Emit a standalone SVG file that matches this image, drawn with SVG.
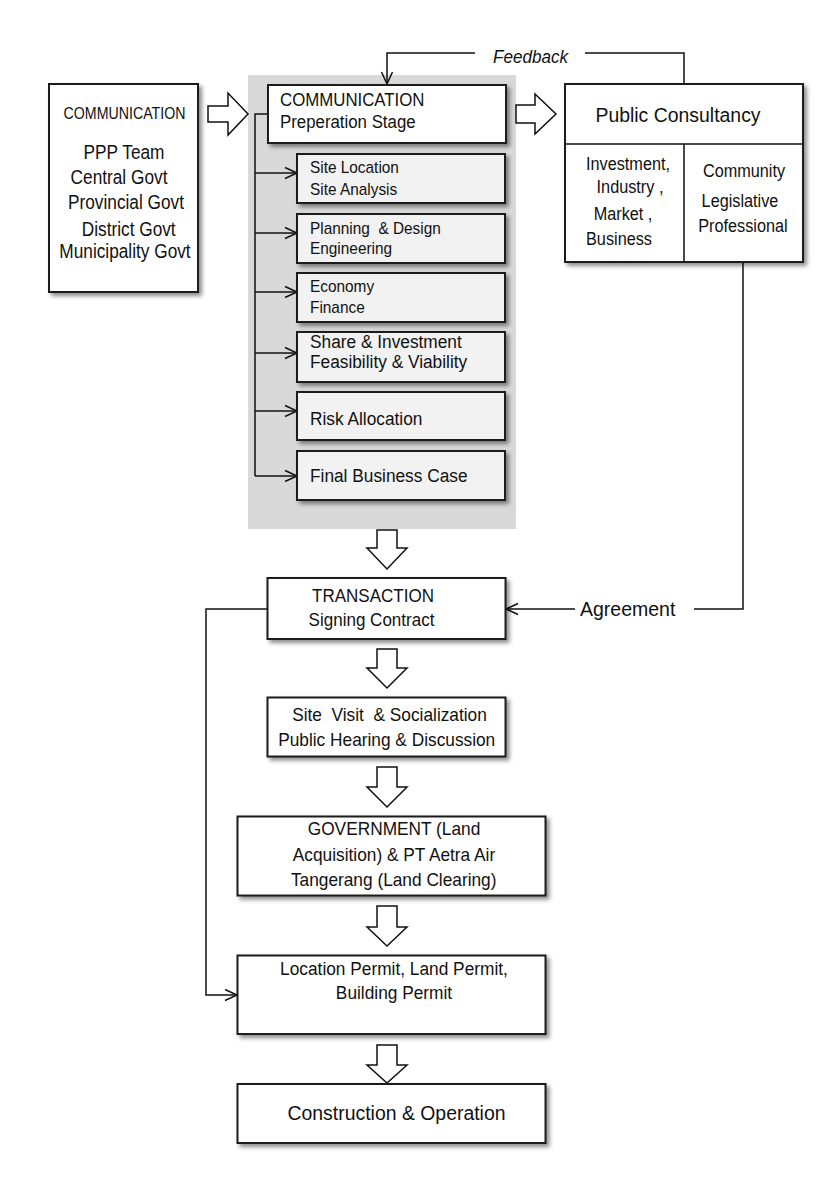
<svg xmlns="http://www.w3.org/2000/svg" width="840" height="1196" viewBox="0 0 840 1196">
<style>
text{font-family:"Liberation Sans",Arial,sans-serif;fill:#111}
.box{fill:#fff;stroke:#1a1a1a;stroke-width:2;filter:url(#sh)}
.sub{fill:#f2f2f2;stroke:#1a1a1a;stroke-width:2;filter:url(#sh)}
.blk{fill:#fff;stroke:#111;stroke-width:1.5;stroke-linejoin:miter}
.ln{fill:none;stroke:#111;stroke-width:1.5}
.arr{marker-end:url(#ah)}
.m{text-anchor:middle}
</style>
<defs>
<filter id="sh" x="-10%" y="-10%" width="125%" height="130%">
<feDropShadow dx="3" dy="3" stdDeviation="2" flood-color="#000" flood-opacity="0.45"/>
</filter>
<marker id="ah" markerUnits="userSpaceOnUse" markerWidth="16" markerHeight="16" refX="13" refY="7" orient="auto">
<path d="M1,1.5 L13,7 L1,12.5" fill="none" stroke="#111" stroke-width="1.5"/>
</marker>
</defs>
<rect width="840" height="1196" fill="#fff"/>

<rect id="prep-panel" x="248" y="75" width="268" height="454" fill="#d9d9d9"/>

<g id="connectors">
<path class="ln" d="M684,84 V53 H585"/>
<path class="ln arr" d="M475,53 H387 V84"/>
<path class="ln" d="M743,262 V609 H694"/>
<path class="ln arr" d="M575,609 H506"/>
<path class="ln" d="M268,114 H255 V476"/>
<path class="ln arr" d="M255,173 H297"/>
<path class="ln arr" d="M255,233 H297"/>
<path class="ln arr" d="M255,292 H297"/>
<path class="ln arr" d="M255,353 H297"/>
<path class="ln arr" d="M255,411 H297"/>
<path class="ln arr" d="M255,476 H297"/>
<path class="ln arr" d="M267,609 H206 V995 H237"/>
<path class="blk" d="M208,106 H228 V93 L248,114 L228,135 V122 H208 Z"/>
<path class="blk" d="M516,105 H535 V94 L556,114 L535,134 V123 H516 Z"/>
<path class="blk" d="M377,530 H397 V548 H407 L387,569 L367,548 H377 Z"/>
<path class="blk" d="M377,649 H397 V668 H407 L387,688 L367,668 H377 Z"/>
<path class="blk" d="M377,767 H397 V787 H407 L387,807 L367,787 H377 Z"/>
<path class="blk" d="M377,906 H397 V927 H407 L387,946 L367,927 H377 Z"/>
<path class="blk" d="M377,1045 H397 V1065 H407 L387,1083 L367,1065 H377 Z"/>
<text transform="translate(493,62.5) scale(0.9,1)" font-size="19" font-style="italic">Feedback</text>
<text transform="translate(580,616)" font-size="19.5">Agreement</text>
</g>

<g id="node-communication-left">
<rect class="box" x="49" y="84" width="149" height="208"/>
<text class="m" transform="translate(124.5,119) scale(0.86,1)" font-size="16.5">COMMUNICATION</text>
<text class="m" transform="translate(124,159) scale(0.885,1)" font-size="19.5">PPP Team</text>
<text class="m" transform="translate(119,184) scale(0.885,1)" font-size="19.5">Central Govt</text>
<text class="m" transform="translate(126,209) scale(0.885,1)" font-size="19.5">Provincial Govt</text>
<text class="m" transform="translate(128.7,235.7) scale(0.885,1)" font-size="19.5">District Govt</text>
<text class="m" transform="translate(125,257.5) scale(0.885,1)" font-size="19.5">Municipality Govt</text>
</g>

<g id="node-preparation">
<rect class="box" x="268" y="85" width="238" height="58"/>
<text transform="translate(280,106) scale(0.91,1)" font-size="18.5">COMMUNICATION</text>
<text transform="translate(280,128) scale(0.91,1)" font-size="18.5">Preperation Stage</text>
</g>

<g id="node-site-location">
<rect class="sub" x="297" y="154" width="208" height="49"/>
<text transform="translate(310,173) scale(0.905,1)" font-size="17">Site Location</text>
<text transform="translate(310,195) scale(0.905,1)" font-size="17">Site Analysis</text>
</g>
<g id="node-planning">
<rect class="sub" x="297" y="214" width="208" height="49"/>
<text transform="translate(310,234) scale(0.905,1)" font-size="17" xml:space="preserve">Planning  &amp; Design</text>
<text transform="translate(310,254) scale(0.905,1)" font-size="17">Engineering</text>
</g>
<g id="node-economy">
<rect class="sub" x="297" y="273" width="208" height="49"/>
<text transform="translate(310,292) scale(0.905,1)" font-size="17">Economy</text>
<text transform="translate(310,313) scale(0.905,1)" font-size="17">Finance</text>
</g>
<g id="node-share">
<rect class="sub" x="297" y="332" width="208" height="50"/>
<text transform="translate(310,348) scale(0.91,1)" font-size="19">Share &amp; Investment</text>
<text transform="translate(310,368) scale(0.91,1)" font-size="19">Feasibility &amp; Viability</text>
</g>
<g id="node-risk">
<rect class="sub" x="297" y="392" width="208" height="48"/>
<text transform="translate(310,425) scale(0.91,1)" font-size="19">Risk Allocation</text>
</g>
<g id="node-final">
<rect class="sub" x="297" y="451" width="208" height="49"/>
<text transform="translate(310,482) scale(0.91,1)" font-size="19">Final Business Case</text>
</g>

<g id="node-public-consultancy">
<rect class="box" x="565" y="84" width="238" height="178"/>
<path class="ln" d="M565,144 H803 M684,144 V262" stroke-width="2"/>
<text class="m" transform="translate(678,122) scale(0.925,1)" font-size="21">Public Consultancy</text>
<text class="m" transform="translate(628,170) scale(0.93,1)" font-size="17.5">Investment,</text>
<text class="m" transform="translate(630,193) scale(0.93,1)" font-size="17.5">Industry ,</text>
<text class="m" transform="translate(623,220) scale(0.93,1)" font-size="17.5">Market ,</text>
<text class="m" transform="translate(619,245) scale(0.93,1)" font-size="17.5">Business</text>
<text class="m" transform="translate(744,177) scale(0.93,1)" font-size="17.5">Community</text>
<text class="m" transform="translate(740,207) scale(0.93,1)" font-size="17.5">Legislative</text>
<text class="m" transform="translate(743,232) scale(0.93,1)" font-size="17.5">Professional</text>
</g>

<g id="node-transaction">
<rect class="box" x="267.5" y="578" width="238" height="61"/>
<text class="m" transform="translate(373,601.7) scale(0.92,1)" font-size="18.5">TRANSACTION</text>
<text class="m" transform="translate(371.5,626) scale(0.92,1)" font-size="18.5">Signing Contract</text>
</g>

<g id="node-site-visit">
<rect class="box" x="267.5" y="697.5" width="238" height="59"/>
<text class="m" transform="translate(389.5,720.7) scale(0.92,1)" font-size="18.8" xml:space="preserve">Site  Visit  &amp; Socialization</text>
<text class="m" transform="translate(386.7,745.7) scale(0.92,1)" font-size="18.8">Public Hearing &amp; Discussion</text>
</g>

<g id="node-government">
<rect class="box" x="237.5" y="816.5" width="308" height="79"/>
<text class="m" transform="translate(394,835) scale(0.92,1)" font-size="18.8">GOVERNMENT (Land</text>
<text class="m" transform="translate(394,861) scale(0.92,1)" font-size="18.8">Acquisition) &amp; PT Aetra Air</text>
<text class="m" transform="translate(393.7,886) scale(0.92,1)" font-size="18.8">Tangerang (Land Clearing)</text>
</g>

<g id="node-permit">
<rect class="box" x="237.5" y="955.5" width="308" height="78.5"/>
<text class="m" transform="translate(394,975) scale(0.93,1)" font-size="18.6">Location Permit, Land Permit,</text>
<text class="m" transform="translate(394,999) scale(0.93,1)" font-size="18.6">Building Permit</text>
</g>

<g id="node-construction">
<rect class="box" x="237.5" y="1084" width="308" height="59"/>
<text class="m" transform="translate(396.5,1120) scale(0.925,1)" font-size="21">Construction &amp; Operation</text>
</g>
</svg>
